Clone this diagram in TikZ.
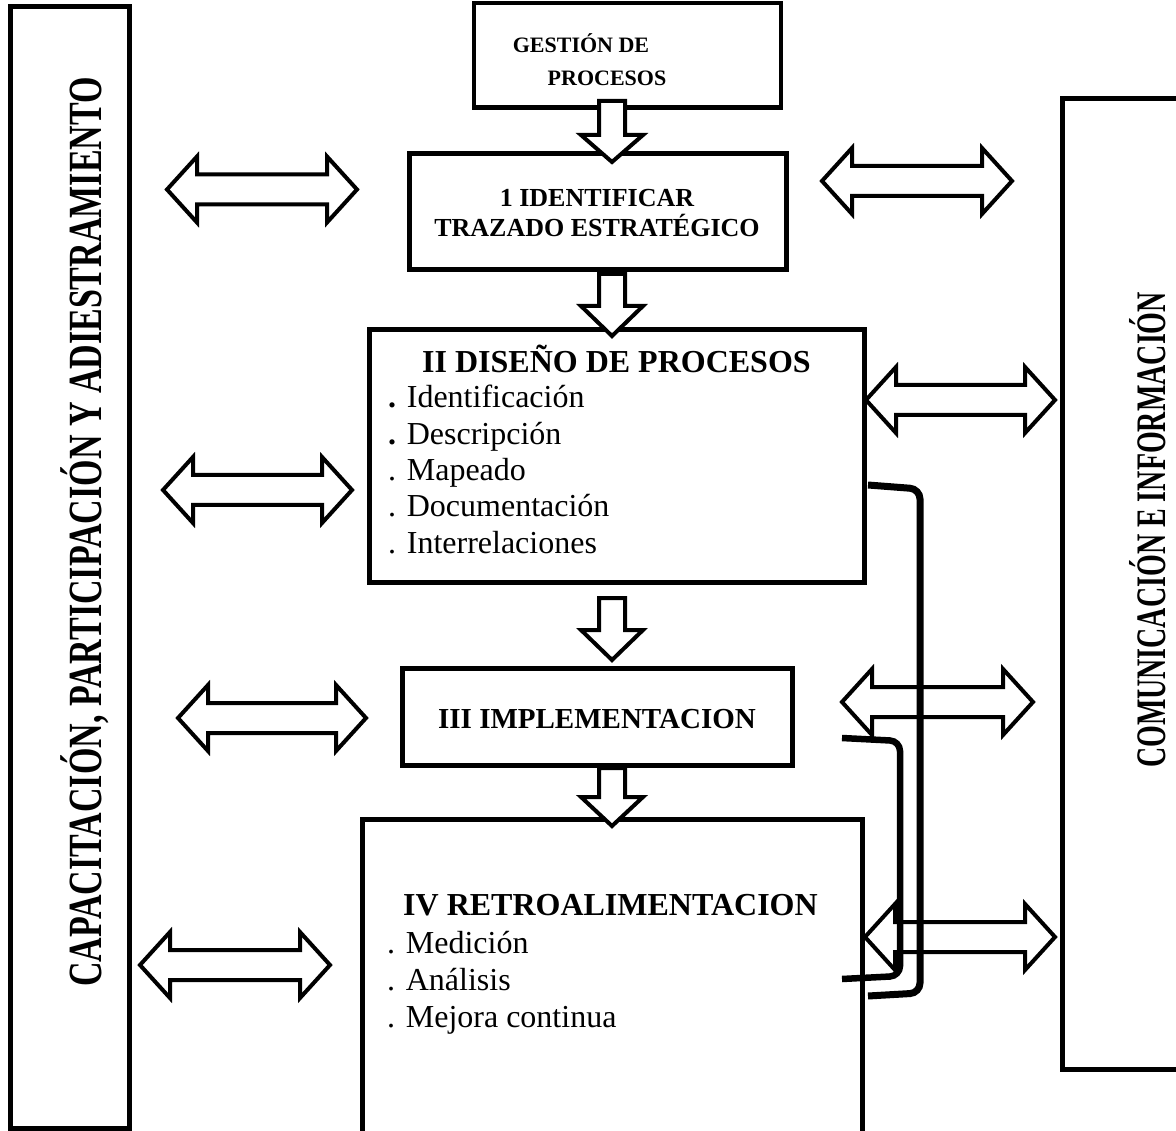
\documentclass[tikz,border=0pt]{standalone}
\usepackage{fontspec}
\usepackage{graphicx}
\setmainfont{Liberation Serif}
\newcommand\dnarrow[3]{\draw[blk] (599,#1) -- (625,#1) -- (625,#2) -- (643,#2) -- (612,#3) -- (581,#2) -- (599,#2) -- cycle;}
\newcommand\lrarrow[3]{\draw[blk] (#1,#3) -- (#1+30,#3-33) -- (#1+30,#3-15) -- (#2-30,#3-15) -- (#2-30,#3-33) -- (#2,#3) -- (#2-30,#3+33) -- (#2-30,#3+15) -- (#1+30,#3+15) -- (#1+30,#3+33) -- cycle;}
\begin{document}
\begin{tikzpicture}[x=1pt,y=-1pt,
  box/.style={draw, line width=5pt, inner sep=0pt, fill=none},
  blk/.style={draw, line width=4pt, fill=white, line join=miter},
  brk/.style={draw, line width=7pt, rounded corners=10pt},
  hd/.style={inner sep=0pt, font=\fontsize{32}{36}\selectfont\bfseries},
  it/.style={inner sep=0pt, anchor=base west, font=\fontsize{32}{36}\selectfont},
  sm/.style={inner sep=0pt, anchor=base, font=\fontsize{26}{30}\selectfont\bfseries}]
\useasboundingbox (0,0) rectangle (1176,1131);
\fill[white] (0,0) rectangle (1176,1131);
% side boxes
\node[box, minimum width=119pt, minimum height=1122pt] (lbox) at (70,567.5) {};
\node[box, minimum width=137.5pt, minimum height=971pt] (rbox) at (1131.25,584) {};
\node[inner sep=0pt, anchor=base, rotate=90, font=\fontsize{34}{38}\selectfont\bfseries] (ltxt) at (101,532) {\scalebox{1}[1.4]{CAPACITACIÓN, PARTICIPACIÓN Y ADIESTRAMIENTO}};
\node[inner sep=0pt, anchor=base, rotate=90, font=\fontsize{28}{32}\selectfont\bfseries] (rtxt) at (1165,530) {\scalebox{1}[1.5]{COMUNICACIÓN E INFORMACIÓN}};
% central boxes
\node[box, line width=4.5pt, minimum width=307pt, minimum height=104.5pt] (b0) at (627.5,55.25) {};
\node[box, minimum width=377pt, minimum height=116pt] (b1) at (597.5,212) {};
\node[box, minimum width=494.5pt, minimum height=252pt] (b2) at (616.75,456) {};
\node[box, minimum width=390pt, minimum height=97pt] (b3) at (597,716.5) {};
\node[box, minimum width=500pt, minimum height=341pt] (b4) at (612,989.5) {};
% texts
\node[sm, font=\fontsize{22}{26}\selectfont\bfseries] (t0a) at (581,53) {GESTIÓN DE};
\node[sm, font=\fontsize{22}{26}\selectfont\bfseries] (t0b) at (607,86) {PROCESOS};
\node[sm] (t1a) at (597,207) {1 IDENTIFICAR};
\node[sm] (t1b) at (597,237) {TRAZADO ESTRATÉGICO};
\node[hd, anchor=base west] (t2) at (422,373) {II DISEÑO DE PROCESOS};
\node[it] (t2a) at (388,408) {\textbf{.} Identificación};
\node[it] (t2b) at (388,445) {\textbf{.} Descripción};
\node[it] (t2c) at (388,481) {. Mapeado};
\node[it] (t2d) at (388,517) {. Documentación};
\node[it] (t2e) at (388,553) {. Interrelaciones};
\node[sm, font=\fontsize{29}{33}\selectfont\bfseries] (t3) at (597,728) {III IMPLEMENTACION};
\node[hd, anchor=base west] (t4) at (403,915) {IV RETROALIMENTACION};
\node[it] (t4a) at (387,953) {. Medición};
\node[it] (t4b) at (387,990) {. Análisis};
\node[it] (t4c) at (387,1027) {. Mejora continua};
% vertical block arrows
\dnarrow{101}{135}{162}
\dnarrow{274}{306}{336}
\dnarrow{598}{630}{660}
\dnarrow{768}{797}{826}
% double arrows left
\lrarrow{167}{357}{189.5}
\lrarrow{163}{352}{490}
\lrarrow{178}{366}{718}
\lrarrow{140}{330}{965}
% double arrows right
\lrarrow{822}{1012}{181}
\lrarrow{866}{1055}{400}
\lrarrow{842}{1033}{702}
\lrarrow{865}{1055}{937}
% brackets
\draw[brk] (868,485) -- (920,489) -- (920,993) -- (868,996);
\draw[brk, line width=6.5pt] (842,738) -- (900,741) -- (900,976) -- (842,979);
\end{tikzpicture}
\end{document}
